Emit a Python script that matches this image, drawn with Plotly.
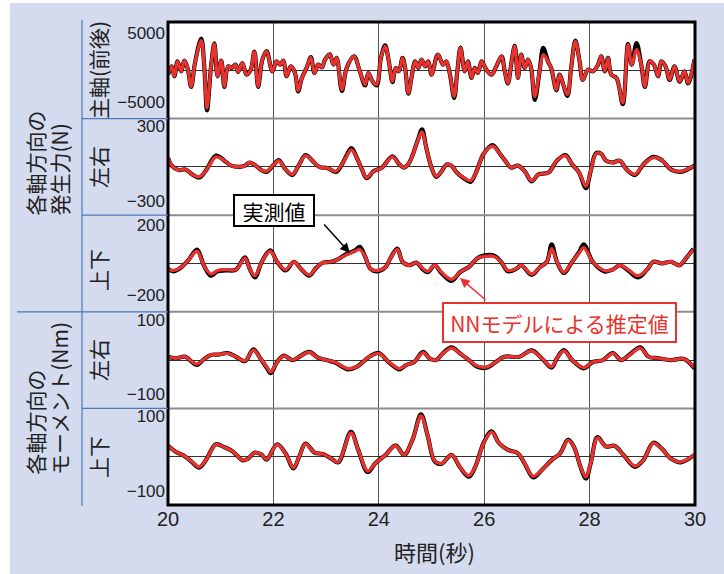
import plotly.graph_objects as go
from plotly.subplots import make_subplots

# ---------------- data ----------------
# time axis [s]
t1 = [20.00, 20.07, 20.12, 20.18, 20.25, 20.31, 20.37, 20.44, 20.51, 20.63,
      20.69, 20.74, 20.82, 20.88, 20.94, 21.01, 21.07, 21.14, 21.21, 21.28,
      21.33, 21.41, 21.49, 21.57, 21.64, 21.71, 21.79, 21.87, 21.98, 22.06,
      22.13, 22.19, 22.25, 22.33, 22.41, 22.47, 22.54, 22.63, 22.71, 22.78,
      22.85, 22.92, 22.98, 23.07, 23.14, 23.20, 23.30, 23.39, 23.53, 23.64,
      23.74, 23.80, 23.88, 23.96, 24.04, 24.12, 24.19, 24.26, 24.32, 24.38,
      24.45, 24.50, 24.56, 24.62, 24.69, 24.75, 24.81, 24.88, 24.94, 25.00,
      25.12, 25.22, 25.28, 25.35, 25.43, 25.49, 25.55, 25.63, 25.69, 25.76,
      25.82, 25.88, 25.95, 26.04, 26.14, 26.23, 26.33, 26.39, 26.45, 26.52,
      26.58, 26.64, 26.70, 26.77, 26.83, 26.89, 26.96, 27.05, 27.12, 27.21,
      27.27, 27.37, 27.43, 27.50, 27.58, 27.65, 27.73, 27.81, 27.87, 27.97,
      28.06, 28.16, 28.22, 28.29, 28.35, 28.41, 28.51, 28.63, 28.73, 28.80,
      28.89, 28.98, 29.05, 29.14, 29.22, 29.30, 29.36, 29.44, 29.52, 29.61,
      29.71, 29.80, 29.87, 29.99]
# main axis (fore-aft) force [N]
v1_nn = [-650, 580, -870, 1300, -150, 1400, 340, -2320, 1000, 4300,
         340, -5460, 820, 3820, -870, 1400, -2320, 580, 340, 820,
         -240, 1060, -630, 100, 2660, -2320, 1550, 2750, -150, 1300,
         820, 1400, -870, 580, -390, -2950, -1110, 340, 1880, -390,
         820, 430, 1550, 2270, 820, 1790, -2800, 340, 2030, -150,
         -2080, -390, -1590, -2080, 1790, 3480, 1300, -1590, 340, -150,
         1790, 340, -3280, -1110, 1300, 340, 1550, 580, 1300, -630,
         2270, 820, 1300, -630, -3770, -150, 3240, -150, 1300, -1110,
         340, -390, 1300, 100, -630, 580, 2030, -150, -1840, 1300,
         3480, -1110, 2270, 340, 1550, 340, -3770, -150, 2270, 1300,
         340, -2800, -630, -2080, -3530, 340, 4200, 1300, -1350, 100,
         -150, 820, 2030, -150, 1790, -630, -1110, -4730, 3720, 820,
         3000, 820, -2320, 1300, 820, -870, 1300, 580, -1350, 580,
         -1590, -150, -1840, 1550]
v1_meas = [-650, 580, -870, 1300, -150, 1400, 340, -2400, 1000, 4600,
           340, -5800, 820, 3900, -870, 1400, -2400, 580, 340, 820,
           -240, 1060, -630, 100, 2700, -2400, 1550, 2800, -150, 1300,
           820, 1400, -870, 580, -390, -3050, -1110, 340, 1900, -390,
           820, 430, 1550, 2300, 820, 1790, -3000, 340, 2030, -150,
           -2200, -390, -1590, -2200, 1790, 3600, 1300, -1700, 340, -150,
           1790, 340, -3400, -1110, 1300, 340, 1550, 580, 1300, -630,
           2270, 820, 1300, -630, -4000, -150, 3300, -150, 1300, -1110,
           340, -390, 1300, 100, -630, 580, 2030, -150, -1900, 1300,
           3550, -1110, 2270, 340, 1550, 340, -4300, -150, 3240, 1300,
           340, -2900, -630, -2080, -3700, 340, 4300, 1300, -1400, 100,
           -150, 820, 2030, -150, 1790, -630, -1110, -4900, 3800, 820,
           3960, 820, -2400, 1300, 820, -870, 1300, 580, -1400, 580,
           -1650, -150, -1900, 1550]

t2 = [20.00, 20.07, 20.20, 20.33, 20.46, 20.59, 20.71, 20.91, 21.07, 21.20,
      21.36, 21.46, 21.55, 21.65, 21.75, 21.87, 22.00, 22.10, 22.23, 22.36,
      22.49, 22.61, 22.74, 22.87, 23.03, 23.19, 23.32, 23.48, 23.58, 23.68,
      23.77, 23.90, 24.06, 24.26, 24.39, 24.48, 24.58, 24.74, 24.82, 24.90,
      25.00, 25.09, 25.19, 25.29, 25.38, 25.48, 25.61, 25.74, 25.83, 25.99,
      26.16, 26.28, 26.38, 26.51, 26.64, 26.77, 26.90, 27.03, 27.22, 27.38,
      27.54, 27.67, 27.80, 27.93, 28.02, 28.12, 28.22, 28.31, 28.44, 28.57,
      28.70, 28.86, 29.02, 29.21, 29.38, 29.54, 29.73, 29.99]
# left-right force [N]
v2_nn = [75, 10, -25, -20, -60, -80, -35, 80, 50, 10,
         0, 10, 35, 15, -20, -35, 15, 50, -20, -60,
         20, 90, 50, 0, -10, -35, 35, 135, 75, -20,
         -85, -35, -5, 80, 20, -5, 35, 210, 280, 155,
         -5, -75, -35, 20, 10, -45, -85, -110, -60, 105,
         165, 115, 60, -5, 10, -35, -110, -60, -45, 50,
         90, 20, -45, -155, -35, 105, 105, 50, 35, 50,
         -20, -60, 20, 75, 50, -20, -35, 10]
v2_meas = [75, 10, -25, -20, -60, -85, -35, 90, 50, 10,
           0, 10, 35, 15, -20, -40, 15, 55, -20, -65,
           20, 95, 50, 0, -10, -40, 35, 150, 75, -20,
           -90, -35, -5, 85, 20, -5, 35, 215, 300, 155,
           -5, -80, -35, 20, 10, -45, -90, -120, -60, 105,
           175, 115, 60, -5, 10, -35, -115, -60, -45, 50,
           95, 20, -45, -170, -35, 110, 105, 50, 35, 50,
           -20, -65, 20, 80, 50, -20, -40, 10]

t3 = [20.00, 20.10, 20.26, 20.39, 20.55, 20.68, 20.81, 20.94, 21.10, 21.29,
      21.46, 21.55, 21.65, 21.78, 21.94, 22.07, 22.23, 22.39, 22.52, 22.68,
      22.81, 22.94, 23.10, 23.23, 23.39, 23.55, 23.64, 23.74, 23.84, 23.97,
      24.13, 24.22, 24.35, 24.45, 24.58, 24.71, 24.84, 24.93, 25.06, 25.19,
      25.38, 25.54, 25.71, 25.87, 25.99, 26.19, 26.32, 26.45, 26.61, 26.70,
      26.90, 27.06, 27.19, 27.28, 27.38, 27.51, 27.67, 27.80, 27.89, 28.06,
      28.28, 28.44, 28.57, 28.73, 28.92, 29.09, 29.21, 29.38, 29.54, 29.70,
      29.83, 29.97]
# up-down force [N]
v3_nn = [-30, -40, -20, 20, 70, -10, -60, -40, -35, -35,
         30, -30, -70, 10, 70, 10, -35, 10, -30, -65,
         -25, 5, 10, 25, 50, 70, 80, 40, -30, -40,
         -20, 30, 80, 10, -10, 5, -30, -45, -10, -50,
         -90, -50, -20, 30, 40, 40, 10, -40, -30, -10,
         -60, -20, 10, 85, 10, -50, 10, 60, 90, 10,
         -40, -35, -10, -35, -70, -35, 10, 0, 10, -10,
         30, 80]
v3_meas = [-30, -45, -20, 20, 80, -10, -70, -45, -40, -35,
           35, -30, -80, 10, 75, 10, -40, 10, -30, -70,
           -25, 5, 10, 25, 55, 75, 95, 40, -30, -45,
           -20, 30, 85, 10, -10, 5, -35, -50, -10, -55,
           -100, -50, -20, 30, 45, 45, 10, -45, -30, -10,
           -65, -20, 10, 110, 10, -55, 10, 65, 110, 10,
           -45, -35, -10, -40, -80, -35, 10, 0, 10, -10,
           30, 85]

t4 = [20.00, 20.14, 20.33, 20.46, 20.55, 20.68, 20.81, 20.97, 21.13, 21.29,
      21.46, 21.62, 21.75, 21.87, 21.95, 22.07, 22.20, 22.36, 22.49, 22.68,
      22.84, 23.00, 23.16, 23.42, 23.58, 23.74, 23.84, 24.00, 24.19, 24.39,
      24.51, 24.67, 24.84, 24.96, 25.09, 25.22, 25.38, 25.54, 25.71, 25.87,
      26.06, 26.22, 26.38, 26.67, 26.90, 27.09, 27.28, 27.38, 27.51, 27.67,
      27.89, 28.06, 28.25, 28.44, 28.60, 28.76, 28.96, 29.12, 29.31, 29.54,
      29.79, 29.99]
# left-right moment [Nm]
v4_nn = [9, 5, 9, -5, -11, 2, 14, 15, 18, 9,
         -2, 27, 5, -18, -32, -5, 11, 0, 9, 21,
         7, 0, -5, -23, -18, 0, 11, 18, -5, -23,
         -14, -5, 20, 5, 0, 18, 32, 18, 0, -16,
         -18, -5, 9, 9, 25, 5, -18, 5, 25, 0,
         -20, -5, 0, 18, 0, 14, 32, 9, 5, 0,
         3, -20]
v4_meas = [9, 5, 9, -6, -13, 2, 14, 15, 19, 9,
           -3, 29, 5, -20, -35, -5, 12, 0, 9, 22,
           7, 0, -6, -25, -18, 0, 11, 19, -6, -25,
           -14, -5, 22, 5, 0, 19, 34, 18, 0, -18,
           -20, -5, 9, 9, 26, 5, -20, 5, 27, 0,
           -22, -5, 0, 19, 0, 15, 34, 9, 5, 0,
           3, -22]

t5 = [20.00, 20.14, 20.33, 20.46, 20.59, 20.71, 20.91, 21.07, 21.23, 21.42,
      21.52, 21.65, 21.78, 21.87, 22.07, 22.23, 22.38, 22.49, 22.61, 22.78,
      22.94, 23.10, 23.23, 23.47, 23.61, 23.79, 23.93, 24.13, 24.32, 24.48,
      24.64, 24.80, 24.93, 25.06, 25.19, 25.38, 25.54, 25.71, 25.83, 25.99,
      26.14, 26.28, 26.45, 26.64, 26.77, 26.93, 27.09, 27.28, 27.44, 27.59,
      27.70, 27.83, 27.93, 28.02, 28.15, 28.31, 28.47, 28.64, 28.86, 29.02,
      29.21, 29.38, 29.54, 29.73, 29.99]
# up-down moment [Nm]
v5_nn = [29, 14, 0, -14, -27, -11, 32, 25, 14, -9,
         -5, 11, 5, -7, 32, 9, -29, 0, 34, 11,
         7, -5, -14, 63, 18, -38, -18, 5, 29, 5,
         45, 108, 54, -11, -18, 5, -27, -50, -27, 36,
         65, 36, 18, 9, -18, -52, -36, -9, 9, 43,
         27, -27, -54, -18, 50, 27, 29, 5, -25, -9,
         36, 20, -5, -14, 5]
v5_meas = [29, 14, 0, -15, -29, -11, 33, 25, 14, -10,
           -5, 11, 5, -8, 33, 9, -31, 0, 35, 11,
           7, -5, -15, 66, 18, -41, -18, 5, 30, 5,
           45, 112, 54, -12, -19, 5, -28, -53, -27, 37,
           67, 36, 18, 9, -19, -55, -36, -9, 9, 45,
           27, -28, -58, -18, 52, 27, 29, 5, -27, -9,
           37, 20, -5, -15, 5]

y_ranges = [7000, 386, 276, 129.5, 128]
y_ticks = [5000, 300, 200, 100, 100]
y_ticktext = [["5000", "\u22125000"], ["300", "\u2212300"], ["200", "\u2212200"],
              ["100", "\u2212100"], ["100", "\u2212100"]]
x_ticks = [20, 22, 24, 26, 28, 30]
row_labels = ["主軸(前後)", "左右", "上下", "左右", "上下"]
group_labels = [["各軸方向の", "発生力(N)"], ["各軸方向の", "モーメント(Nm)"]]
x_title = "時間(秒)"
label_meas = "実測値"
label_nn = "NNモデルによる推定値"

# ---------------- styling ----------------
W, H = 724, 574
L, R, T, B = 168, 29, 22, 69
PW, PH = W - L - R, H - T - B
RED = "#e8322e"
BLUE = "#4a7ab5"
BG = "#d4dbef"
CJK = "Noto Sans CJK JP"
NUM = "Liberation Sans, Arial, sans-serif"


def px(xpix):
    return (xpix - L) / PW


def py(ypix):
    return (H - B - ypix) / PH


fig = make_subplots(rows=5, cols=1, shared_xaxes=True, vertical_spacing=0)

series = [(t1, v1_meas, v1_nn), (t2, v2_meas, v2_nn), (t3, v3_meas, v3_nn),
          (t4, v4_meas, v4_nn), (t5, v5_meas, v5_nn)]
for i, (t, m, n) in enumerate(series, start=1):
    fig.add_trace(go.Scatter(x=t, y=m, mode="lines", showlegend=False,
                             line=dict(color="black", width=4.2, shape="spline", smoothing=1.0)),
                  row=i, col=1)
    fig.add_trace(go.Scatter(x=t, y=n, mode="lines", showlegend=False,
                             line=dict(color=RED, width=3.3, shape="spline", smoothing=1.0)),
                  row=i, col=1)
    rr = y_ranges[i - 1]
    fig.update_yaxes(range=[-rr, rr], tickvals=[y_ticks[i - 1], -y_ticks[i - 1]],
                     ticktext=y_ticktext[i - 1], showgrid=False, zeroline=True,
                     zerolinecolor="#333333", zerolinewidth=1, showline=False, ticks="",
                     ticklabelshift=-3, ticklabelstandoff=2,
                     tickfont=dict(family=NUM, size=17, color="#222222"),
                     row=i, col=1)
    fig.update_xaxes(range=[20, 30], tickvals=x_ticks, showgrid=True,
                     gridcolor="#555555", gridwidth=1, zeroline=False, showline=False,
                     ticks="", showticklabels=(i == 5),
                     tickfont=dict(family=NUM, size=20, color="#222222"),
                     row=i, col=1)

shapes = []
# white margins of the original picture
shapes.append(dict(type="rect", xref="paper", yref="paper", x0=px(-20), x1=px(10),
                   y0=py(600), y1=py(-20), fillcolor="white", line=dict(width=0)))
shapes.append(dict(type="rect", xref="paper", yref="paper", x0=px(-20), x1=px(760),
                   y0=py(3), y1=py(-20), fillcolor="white", line=dict(width=0)))
# separators between panels
for k in range(1, 5):
    shapes.append(dict(type="line", xref="paper", yref="paper", x0=0, x1=1,
                       y0=k / 5, y1=k / 5, line=dict(color="#8c8c8c", width=2)))
# outer frame
shapes.append(dict(type="rect", xref="paper", yref="paper", x0=0, x1=1, y0=0, y1=1,
                   line=dict(color="black", width=3)))
# blue guide lines on the left
shapes.append(dict(type="line", xref="paper", yref="paper", x0=px(82), x1=px(82),
                   y0=py(506), y1=py(20), line=dict(color=BLUE, width=1.2)))
for k in range(1, 5):
    x0 = px(17) if k == 2 else px(82)
    shapes.append(dict(type="line", xref="paper", yref="paper", x0=x0, x1=0,
                       y0=k / 5, y1=k / 5, line=dict(color=BLUE, width=1.2)))

annotations = []
row_centers = [70, 167, 270, 360, 457]
for lab, yc in zip(row_labels, row_centers):
    annotations.append(dict(text=lab, xref="paper", yref="paper", x=px(98), y=py(yc),
                            xanchor="center", yanchor="middle", textangle=-90,
                            showarrow=False, font=dict(family=CJK, size=21, color="#222222")))
for (l1, l2), ybot in zip(group_labels, [218, 477]):
    annotations.append(dict(text=l1, xref="paper", yref="paper", x=px(34), y=py(ybot),
                            xanchor="center", yanchor="bottom", textangle=-90,
                            showarrow=False, font=dict(family=CJK, size=21, color="#222222")))
    annotations.append(dict(text=l2, xref="paper", yref="paper", x=px(58.5), y=py(ybot),
                            xanchor="center", yanchor="bottom", textangle=-90,
                            showarrow=False, font=dict(family=CJK, size=21, color="#222222")))
annotations.append(dict(text=x_title, xref="paper", yref="paper", x=px(434), y=py(551),
                        xanchor="center", yanchor="middle", showarrow=False,
                        font=dict(family=CJK, size=22, color="#222222")))
# boxed labels
annotations.append(dict(text=label_meas, xref="paper", yref="paper", x=px(274), y=py(210.5),
                        xanchor="center", yanchor="middle", showarrow=False,
                        bgcolor="white", bordercolor="black", borderwidth=2, borderpad=3,
                        width=72, height=23, font=dict(family=CJK, size=21, color="black")))
annotations.append(dict(text="", x=23.45, y=60, xref="x3", yref="y3", showarrow=True,
                        ax=-27, ay=-30, arrowhead=2, arrowsize=1.3, arrowwidth=1.5,
                        arrowcolor="black"))
annotations.append(dict(text=label_nn, xref="paper", yref="paper", x=px(559.5), y=py(322.5),
                        xanchor="center", yanchor="middle", showarrow=False,
                        bgcolor="white", bordercolor=RED, borderwidth=2, borderpad=3,
                        width=225, height=31, font=dict(family=CJK, size=21, color=RED)))
annotations.append(dict(text="", x=25.54, y=-83, xref="x3", yref="y3", showarrow=True,
                        ax=27, ay=23, arrowhead=2, arrowsize=1.3, arrowwidth=1.5,
                        arrowcolor=RED))

fig.update_layout(width=W, height=H, margin=dict(l=L, r=R, t=T, b=B),
                  paper_bgcolor=BG, plot_bgcolor="white", shapes=shapes,
                  annotations=annotations, showlegend=False)

fig.write_html("out.html", config={"displayModeBar": False},
               post_script="document.body.style.margin='0';")
